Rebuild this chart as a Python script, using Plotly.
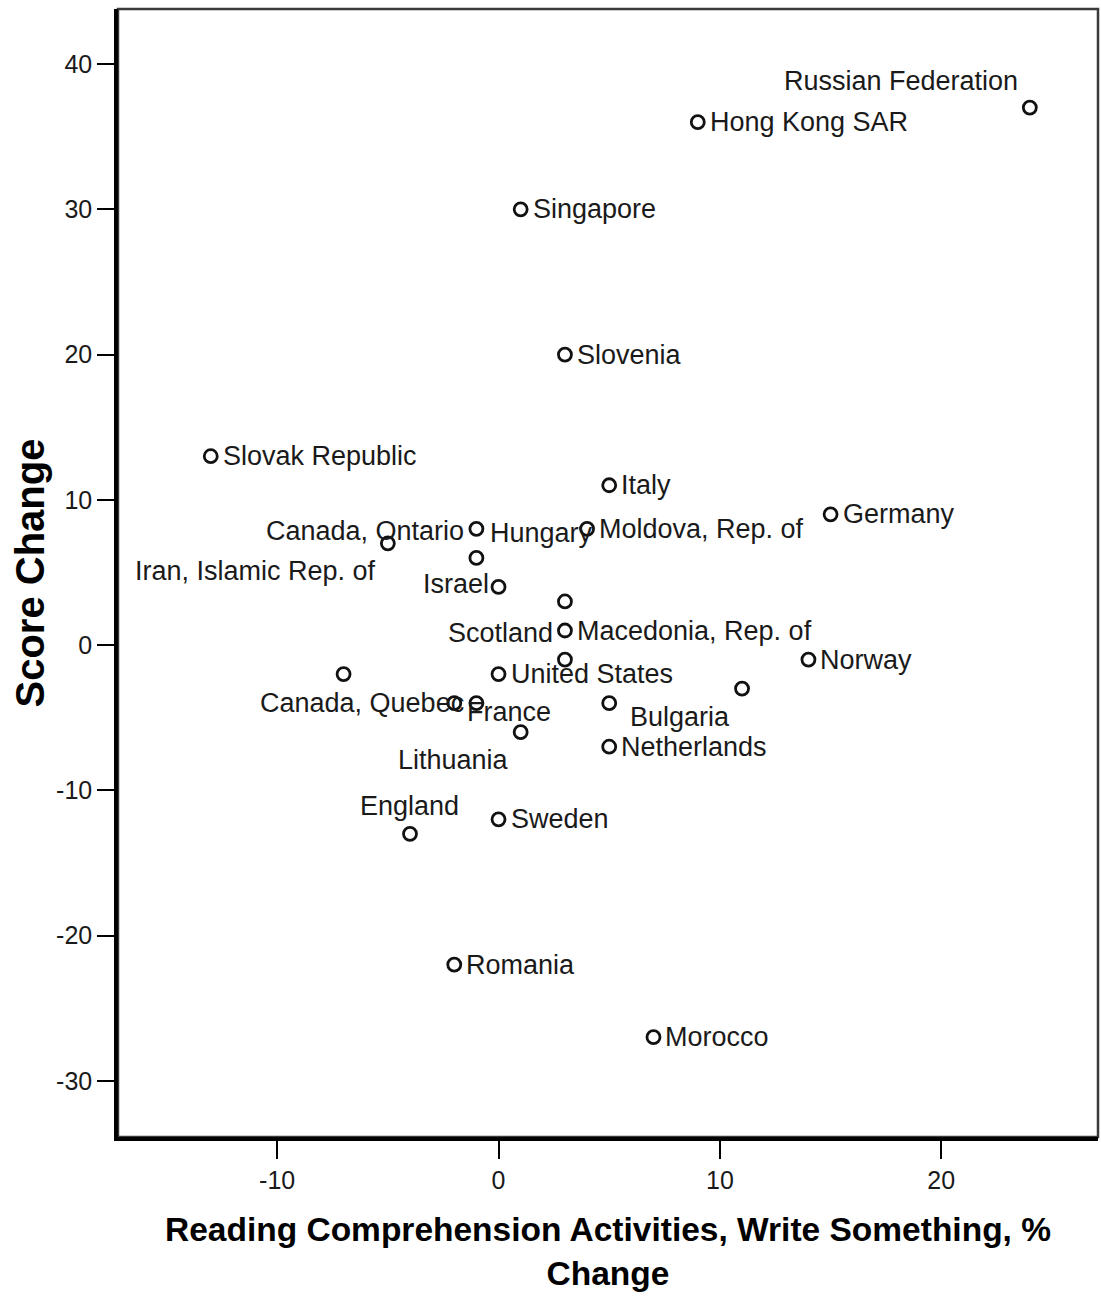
import plotly.graph_objects as go

# ---- data ----
countries = [
    "Russian Federation", "Hong Kong SAR", "Singapore", "Slovenia", "Slovak Republic",
    "Italy", "Germany", "Moldova, Rep. of", "Hungary", "Canada, Ontario",
    "Iran, Islamic Rep. of", "Israel", "", "Macedonia, Rep. of", "Scotland",
    "Norway", "", "United States", "Bulgaria", "France", "Canada, Quebec",
    "", "Lithuania", "Netherlands", "England", "Sweden", "Romania", "Morocco",
]
write_something_change = [
    24, 9, 1, 3, -13,
    5, 15, 4, -1, -1,
    -5, 0, 3, 3, 3,
    14, -7, 0, 11, -2, -1,
    5, 1, 5, -4, 0, -2, 7,
]
score_change = [
    37, 36, 30, 20, 13,
    11, 9, 8, 8, 6,
    7, 4, 3, 1, -1,
    -1, -2, -2, -3, -4, -4,
    -4, -6, -7, -13, -12, -22, -27,
]
x_ticks = [-10, 0, 10, 20]
y_ticks = [-30, -20, -10, 0, 10, 20, 30, 40]

# ---- label placement style (pixel offsets from the marker) ----
R = ("left", 10, 0)
L = ("right", -10, 0)
UL = ("right", -10, 27)
LL = ("right", -10, -28)
U = ("center", 0, 28)
label_style = {
    "Russian Federation": UL, "Hong Kong SAR": R, "Singapore": R, "Slovenia": R,
    "Slovak Republic": R, "Italy": R, "Germany": R, "Moldova, Rep. of": R,
    "Hungary": ("left", 12, -4), "Canada, Ontario": UL, "Iran, Islamic Rep. of": LL,
    "Israel": ("right", -8, 3), "Macedonia, Rep. of": R, "Scotland": UL,
    "Norway": R, "United States": R, "Bulgaria": LL, "France": ("left", 11, -9),
    "Canada, Quebec": L, "Lithuania": LL, "Netherlands": R, "England": U,
    "Sweden": R, "Romania": R, "Morocco": R,
}

FONT = "Liberation Sans, Arial, sans-serif"

fig = go.Figure()
fig.add_trace(go.Scatter(
    x=write_something_change, y=score_change, mode="markers",
    text=countries, hoverinfo="text+x+y",
    marker=dict(symbol="circle-open", size=13, color="#111111",
                line=dict(width=2.8, color="#111111")),
    showlegend=False,
))

annotations = []
for name, xv, yv in zip(countries, write_something_change, score_change):
    if not name:
        continue
    anchor, dx, dy = label_style[name]
    annotations.append(dict(
        x=xv, y=yv, xref="x", yref="y", text=name, showarrow=False,
        xanchor=anchor, yanchor="middle", xshift=dx, yshift=dy,
        font=dict(family=FONT, size=27, color="#1a1a1a"),
    ))

fig.update_layout(
    width=1101, height=1296,
    margin=dict(l=118, r=3, t=9, b=159),
    paper_bgcolor="white", plot_bgcolor="white",
    annotations=annotations,
    shapes=[dict(type="rect", xref="paper", yref="paper", x0=0, x1=1, y0=0, y1=1,
                 line=dict(color="#3a3a3a", width=2.5), layer="below")],
    xaxis=dict(
        range=[-17.19, 27.08], tickvals=x_ticks, ticktext=[str(t) for t in x_ticks],
        showgrid=False, zeroline=False, showline=True, linecolor="black", linewidth=3.5,
        ticks="outside", ticklen=18, tickwidth=2, tickcolor="black",
        tickfont=dict(family=FONT, size=25, color="#1a1a1a"),
        title=dict(text="<b>Reading Comprehension Activities, Write Something, %<br>Change</b>",
                   font=dict(family=FONT, size=33.5, color="black"), standoff=26),
    ),
    yaxis=dict(
        range=[-33.87, 43.79], tickvals=y_ticks, ticktext=[str(t) for t in y_ticks],
        showgrid=False, zeroline=False, showline=True, linecolor="black", linewidth=3.5,
        ticks="outside", ticklen=17, tickwidth=2, tickcolor="black",
        tickfont=dict(family=FONT, size=25, color="#1a1a1a"),
        title=dict(text="<b>Score Change</b>",
                   font=dict(family=FONT, size=40, color="black"), standoff=0),
    ),
)

fig.write_html("out.html")
